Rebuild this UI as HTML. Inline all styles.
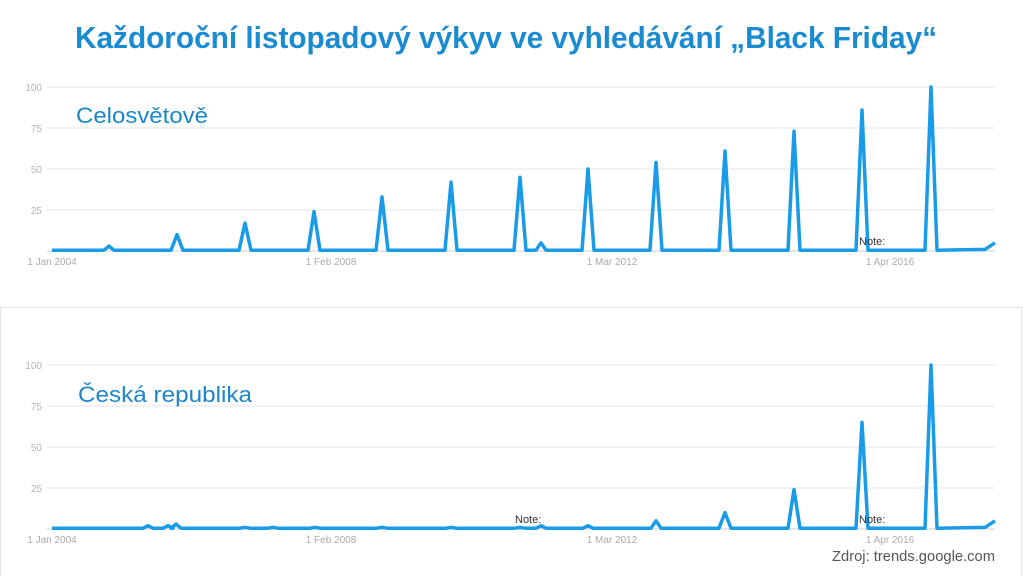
<!DOCTYPE html>
<html><head><meta charset="utf-8"><style>
html,body{margin:0;padding:0;background:#fff;}
svg{display:block;font-family:"Liberation Sans",sans-serif;}
</style></head><body>
<svg id="s" width="1024" height="576" viewBox="0 0 1024 576" xmlns="http://www.w3.org/2000/svg">
<rect x="0" y="0" width="1024" height="576" fill="#fff"/>
<rect x="0.5" y="307.5" width="1021" height="280" fill="none" stroke="#e4e4e4"/>
<text x="75" y="48" font-size="31" font-weight="bold" fill="#1a8bd0" textLength="862" lengthAdjust="spacingAndGlyphs">Každoroční listopadový výkyv ve vyhledávání „Black Friday“</text>
<g id="g1"></g>
<g id="g2"></g>
<text x="76" y="123" font-size="22" fill="#1b86c8" textLength="132" lengthAdjust="spacingAndGlyphs">Celosvětově</text>
<text x="78" y="402" font-size="22" fill="#1b86c8" textLength="174" lengthAdjust="spacingAndGlyphs">Česká republika</text>
<text x="995" y="561" font-size="15" fill="#555" text-anchor="end" textLength="163" lengthAdjust="spacingAndGlyphs">Zdroj: trends.google.com</text>
</svg>
<script>
var NS="http://www.w3.org/2000/svg";
function el(g,t,a,txt){var e=document.createElementNS(NS,t);for(var k in a)e.setAttribute(k,a[k]);if(txt)e.textContent=txt;g.appendChild(e);return e;}
function chart(gid,top,peaks,notes){
 var g=document.getElementById(gid),bot=top+164;
 [100,75,50,25].forEach(function(v,i){var y=top+i*41;
  el(g,'line',{x1:47,x2:995,y1:y,y2:y,stroke:'#e6e6e6','stroke-width':1});
  el(g,'text',{x:42,y:y+4,'font-size':10,fill:'#b5b5b5','text-anchor':'end'},String(v));});
 el(g,'line',{x1:47,x2:995,y1:bot,y2:bot,stroke:'#cfcfcf','stroke-width':1});
 [[52,'1 Jan 2004'],[331,'1 Feb 2008'],[612,'1 Mar 2012'],[890,'1 Apr 2016']].forEach(function(l){
  el(g,'text',{x:l[0],y:bot+14,'font-size':10,fill:'#aaa','text-anchor':'middle'},l[1]);});
 var pts=[[52,0.5]];
 peaks.sort(function(a,b){return a[0]-b[0]});
 peaks.forEach(function(p){var w=p[1]>6?6:5;pts.push([p[0]-w,0.5]);pts.push([p[0],p[1]]);pts.push([p[0]+w,0.5]);});
 pts.push([985,1]);pts.push([995,notes.end]);
 var d=pts.map(function(p,i){return (i?'L':'M')+p[0]+','+(bot-p[1]*1.64).toFixed(1)}).join(' ');
 el(g,'path',{d:d,fill:'none',stroke:'#1a9be8','stroke-width':3.5,'stroke-linejoin':'round'});
 notes.n.forEach(function(x){el(g,'text',{x:x,y:bot-6,'font-size':11,fill:'#333'},'Note:');});
}
chart('g1',87,[[109,3],[177,10],[245,17],[314,24],[382,33],[451,42],[520,45],[541,5],[588,50],[656,54],[725,61],[794,73],[862,86],[931,100]],{end:5,n:[859]});
chart('g2',365,[[148,2],[168,2],[176,3],[245,1],[273,1],[315,1],[382,1],[451,1],[520,1],[541,2],[588,2],[656,5],[725,10],[794,24],[862,65],[931,100]],{end:5,n:[515,859]});
</script>
</body></html>
